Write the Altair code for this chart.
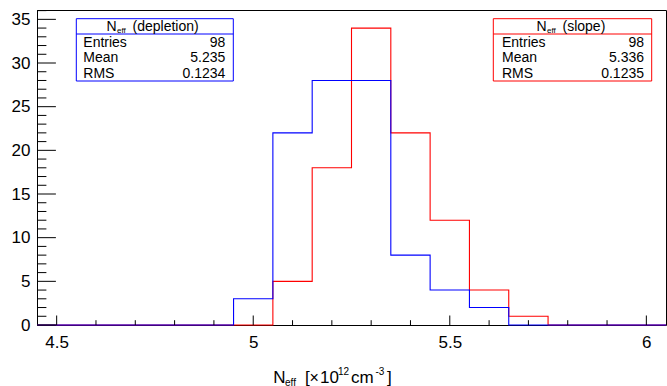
import altair as alt
import pandas as pd

FONT = "Liberation Sans"

# ---------------- data ----------------
bin_edges = [4.45, 4.55, 4.65, 4.75, 4.85, 4.95, 5.05, 5.15, 5.25, 5.35,
             5.45, 5.55, 5.65, 5.75, 5.85, 5.95, 6.05]
blue_counts = [0, 0, 0, 0, 0, 3, 22, 28, 28, 8, 4, 2, 0, 0, 0, 0]
red_counts = [0, 0, 0, 0, 0, 0, 5, 18, 34, 22, 12, 4, 1, 0, 0, 0]

x_major = [4.5, 5.0, 5.5, 6.0]
x_minor = [4.6, 4.7, 4.8, 4.9, 5.1, 5.2, 5.3, 5.4, 5.6, 5.7, 5.8, 5.9]
y_major = [0, 5, 10, 15, 20, 25, 30, 35]
y_minor = [1, 2, 3, 4, 6, 7, 8, 9, 11, 12, 13, 14, 16, 17, 18, 19, 21, 22, 23, 24,
           26, 27, 28, 29, 31, 32, 33, 34, 36]

stat_labels = ["Entries", "Mean", "RMS"]
blue_stats = ["98", "5.235", "0.1234"]
red_stats = ["98", "5.336", "0.1235"]
blue_name = "(depletion)"
red_name = "(slope)"

X_DOMAIN = [4.45, 6.05]
Y_DOMAIN = [0, 36.07]
W, H = 629, 315

xs = alt.Scale(domain=X_DOMAIN, nice=False, zero=False)
ys = alt.Scale(domain=Y_DOMAIN, nice=False, zero=True)

XAXIS = alt.Axis(values=x_major, format="~g", title=None, grid=False,
                 ticks=False, domain=False, labelPadding=9,
                 labelFontSize=17, labelFont=FONT, labelColor="black")
YAXIS = alt.Axis(values=y_major, format="d", title=None, grid=False,
                 ticks=False, domain=False, labelPadding=7,
                 labelFontSize=17, labelFont=FONT, labelColor="black")


def hist_df(counts):
    xs_ = list(bin_edges)
    ys_ = list(counts) + [counts[-1]]
    return pd.DataFrame({"x": xs_, "y": ys_, "o": list(range(len(xs_)))})


dummy = pd.DataFrame({"a": [0]})


def hist_layer(counts, color):
    return alt.Chart(hist_df(counts)).mark_line(
        interpolate="step-after", color=color, strokeWidth=1.1
    ).encode(x=alt.X("x:Q", scale=xs, axis=XAXIS),
             y=alt.Y("y:Q", scale=ys, axis=YAXIS),
             order="o:Q")


def xticks(vals, length):
    return alt.Chart(pd.DataFrame({"x": vals})).mark_rule(color="black", strokeWidth=1).encode(
        x=alt.X("x:Q", scale=xs, axis=XAXIS), y=alt.value(H), y2=alt.value(H - length))


def yticks(vals, length):
    return alt.Chart(pd.DataFrame({"y": vals})).mark_rule(color="black", strokeWidth=1).encode(
        y=alt.Y("y:Q", scale=ys, axis=YAXIS), x=alt.value(0), x2=alt.value(length))


def txt(s, x, y, size, color="black", align="left", baseline="alphabetic"):
    return alt.Chart(dummy).mark_text(
        text=s, fontSize=size, font=FONT, color=color, align=align, baseline=baseline
    ).encode(x=alt.value(x), y=alt.value(y))


def box(x0, x1, y0, y1, ydiv, color):
    r = alt.Chart(dummy).mark_rect(fill="white", stroke=color, strokeWidth=1).encode(
        x=alt.value(x0), x2=alt.value(x1), y=alt.value(y0), y2=alt.value(y1))
    d = alt.Chart(dummy).mark_rule(color=color, strokeWidth=1).encode(
        x=alt.value(x0), x2=alt.value(x1), y=alt.value(ydiv))
    return [r, d]


def stats_layers(x0, x1, tx_left, tx_right, n_x, name, values, color):
    L = box(x0, x1, 8.7, 71, 24, color)
    L.append(txt("N", n_x, 20.5, 14))
    L.append(txt("eff", n_x + 10.5, 23, 8))
    L.append(txt(name, n_x + 26, 20.5, 14))
    rows_y = [37, 52.3, 67.6]
    for lab, val, yy in zip(stat_labels, values, rows_y):
        L.append(txt(lab, tx_left, yy, 14))
        L.append(txt(val, tx_right, yy, 14, align="right"))
    return L


layers = [
    hist_layer(red_counts, "#ff0000"),
    hist_layer(blue_counts, "#0000ff"),
    xticks(x_major, 9.5),
    xticks(x_minor, 4.8),
    yticks(y_major, 18.9),
    yticks(y_minor, 9.4),
]
layers += stats_layers(39.3, 196.3, 46.3, 188.3, 69.5, blue_name, blue_stats, "#0000ff")
layers += stats_layers(456.3, 614.7, 465, 607, 499.5, red_name, red_stats, "#ff0000")

# x-axis title: N_eff [× 10^12 cm^-3]
layers += [
    txt("N", 236.3, 373, 17),
    txt("eff", 248, 375.5, 10),
    txt("[", 268, 373, 17),
    txt("×", 272.5, 373, 16),
    txt("10", 283, 373, 17),
    txt("12", 301, 364.5, 10),
    txt("cm", 314, 373, 17),
    txt("-3", 338.5, 364.5, 10),
    txt("]", 350, 373, 17),
]

chart = alt.layer(*layers).properties(
    width=W, height=H,
    padding={"left": 37, "top": 10, "right": 1, "bottom": 61},
    autosize=alt.AutoSizeParams(type="none"),
    background="white",
).configure_view(stroke="black", strokeWidth=1)

chart.save("out.html", embed_options={"renderer": "svg", "actions": False})
